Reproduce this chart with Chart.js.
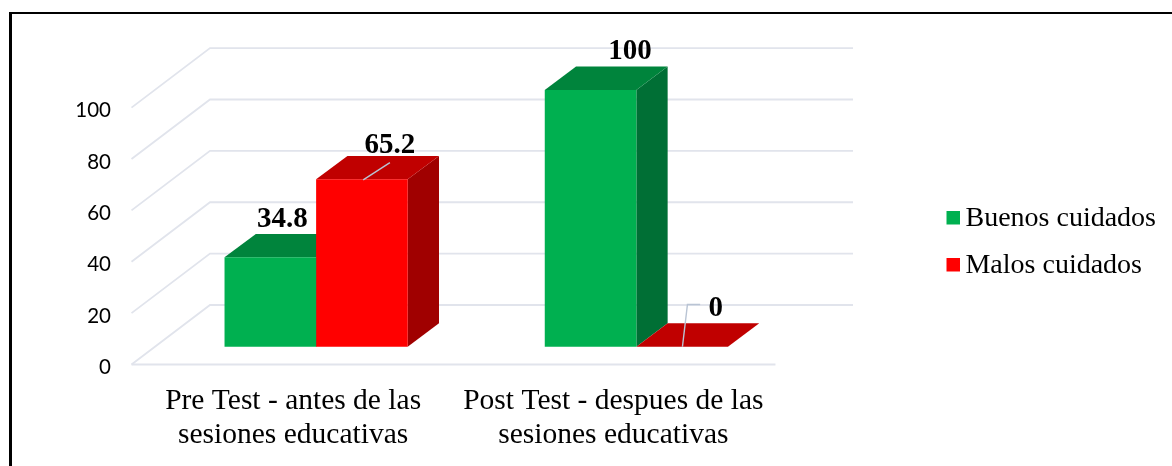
<!DOCTYPE html>
<html><head><meta charset="utf-8">
<script src="https://cdn.jsdelivr.net/npm/chart.js@4/dist/chart.umd.min.js"></script>
<style>
html,body{margin:0;padding:0;background:#fff;width:1172px;height:466px;overflow:hidden}
canvas{position:absolute;left:0;top:0}
#frame{position:absolute;left:9px;top:12px;right:-4px;bottom:-4px;border-left:3px solid #000;border-top:2px solid #000;pointer-events:none}
</style></head><body>
<canvas id="c" width="1172" height="466"></canvas>
<div id="frame"></div>
<script>
const categories = [["Pre Test - antes de las","sesiones educativas"],["Post Test - despues de las","sesiones educativas"]];
const buenos = [34.8, 100];
const malos = [65.2, 0];
const seriesNames = ["Buenos cuidados","Malos cuidados"];
const tickValues = [0,20,40,60,80,100];

const serif = "'Liberation Serif'";
const GRID = '#e1e4ec', LEADER = '#b9c4d4';
const faces = [
  {front:'#00b050', top:'#00843c', side:'#006f35'},
  {front:'#ff0000', top:'#c00000', side:'#a00000'}
];
const BAR_D = {x:31.3, y:-23.4};
const WALL_D = {x:78.5, y:-59.5};
const LABEL_DROP = 3;
const labelNudge = [
  [{dx:12, y:227},{dx:39.5, y:59}],
  [{dx:28, y:153},{dx:33.5, y:316}]
];

function square(color){
  const s=document.createElement('canvas'); s.width=20; s.height=16;
  const g=s.getContext('2d'); g.fillStyle=color; g.fillRect(6,0,14,14); return s;
}
const poly=(ctx,pts,fill)=>{ctx.beginPath();pts.forEach((p,i)=>i?ctx.lineTo(p[0],p[1]):ctx.moveTo(p[0],p[1]));ctx.closePath();ctx.fillStyle=fill;ctx.fill();};

const scene = {
  id:'scene',
  beforeDatasetsDraw(chart){
    const {ctx,chartArea:a,scales}=chart, yt=scales.y;
    const x0=a.left-24.5, x1=a.right-21, xb0=x0+WALL_D.x, xb1=853;
    ctx.save();
    ctx.strokeStyle=GRID; ctx.lineWidth=1.8;
    tickValues.forEach(v=>{
      const yf=yt.getPixelForValue(v)-LABEL_DROP, yb=yf+WALL_D.y;
      ctx.beginPath();ctx.moveTo(x0,yf);ctx.lineTo(xb0,yb);ctx.lineTo(xb1,yb);ctx.stroke();
    });
    const y0=yt.getPixelForValue(0)-LABEL_DROP;
    ctx.beginPath();ctx.moveTo(x0,y0);ctx.lineTo(x1,y0);ctx.stroke();
    chart.data.datasets.forEach((ds,di)=>{
      chart.getDatasetMeta(di).data.forEach(el=>{
        const l=el.x-el.width/2,r=el.x+el.width/2,t=el.y,b=el.base,dx=BAR_D.x,dy=BAR_D.y;
        poly(ctx,[[r,t],[r+dx,t+dy],[r+dx,b+dy],[r,b]],faces[di].side);
        poly(ctx,[[l,t],[r,t],[r+dx,t+dy],[l+dx,t+dy]],faces[di].top);
      });
    });
    ctx.restore();
  },
  afterDatasetsDraw(chart){
    const {ctx}=chart;
    ctx.save();
    const m=chart.getDatasetMeta(1).data;
    ctx.strokeStyle=LEADER;ctx.lineWidth=1.4;
    ctx.beginPath();ctx.moveTo(m[0].x+1.3,m[0].y+.6);ctx.lineTo(m[0].x+28,m[0].y-16.7);ctx.stroke();
    ctx.beginPath();ctx.moveTo(m[1].x+.3,m[1].y);ctx.lineTo(m[1].x+5.3,m[1].y-42.3);ctx.lineTo(m[1].x+18,m[1].y-42.3);ctx.stroke();
    ctx.fillStyle='#000';ctx.font='bold 29px '+serif;ctx.textAlign='center';ctx.textBaseline='alphabetic';
    chart.data.datasets.forEach((ds,di)=>{
      chart.getDatasetMeta(di).data.forEach((el,i)=>{
        const n=labelNudge[di][i];
        ctx.fillText(String(ds.data[i]),el.x+n.dx,n.y);
      });
    });
    ctx.restore();
  }
};

const PX = 2.577, BOTTOM = 364.5, AREA_TOP = 56.3, FLOOR_GAP = 17.8;
const RANGE = (BOTTOM-AREA_TOP)/PX;
new Chart(document.getElementById('c'),{
  type:'bar',
  data:{labels:categories,datasets:[
    {label:seriesNames[0],data:buenos,backgroundColor:faces[0].front,yAxisID:'yb',borderWidth:0},
    {label:seriesNames[1],data:malos,backgroundColor:faces[1].front,yAxisID:'yb',borderWidth:0}
  ]},
  plugins:[scene],
  options:{
    responsive:false,animation:false,
    layout:{padding:{top:18,left:0,right:6,bottom:0}},
    datasets:{bar:{categoryPercentage:0.572,barPercentage:1}},
    plugins:{
      tooltip:{enabled:false},
      legend:{position:'right',maxWidth:300,labels:{
        usePointStyle:true,pointStyleWidth:2,padding:19,color:'#000',
        font:{family:serif,size:28},
        generateLabels(chart){
          return Chart.defaults.plugins.legend.labels.generateLabels(chart).map((it,i)=>({...it,pointStyle:square(faces[i].front)}));
        }
      }}
    },
    scales:{
      x:{type:'category',grid:{display:false,drawTicks:false},border:{display:false},
        afterFit(s){s.height=466-BOTTOM;},
        ticks:{labelOffset:-23,padding:20,maxRotation:0,minRotation:0,autoSkip:false,color:'#000',
          font:{family:serif,size:29.5,lineHeight:1.15}}},
      y:{type:'linear',position:'left',min:LABEL_DROP/PX,max:RANGE+LABEL_DROP/PX,
        afterBuildTicks(s){s.ticks=tickValues.map(v=>({value:v}));},
        afterFit(s){s.width=156;},
        grid:{display:false,drawTicks:false},border:{display:false},
        ticks:{padding:45,color:'#000',font:{family:'Lato',size:20.5}}},
      yb:{type:'linear',position:'right',min:-FLOOR_GAP/PX,max:RANGE-FLOOR_GAP/PX,
        afterFit(s){s.width=134;},
        grid:{display:false,drawTicks:false},border:{display:false},ticks:{display:false}}
    }
  }
});
</script>
</body></html>
